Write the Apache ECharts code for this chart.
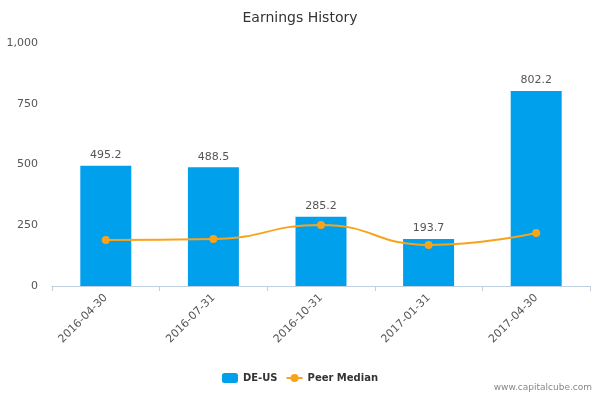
<!DOCTYPE html>
<html>
<head>
<meta charset="utf-8">
<script src="https://cdn.jsdelivr.net/npm/echarts@6/dist/echarts.min.js"></script>
<style>html,body{margin:0;padding:0;background:#fff}</style>
</head>
<body>
<div id="chart" style="width:600px;height:400px"></div>
<script>
var categories = ['2016-04-30', '2016-07-31', '2016-10-31', '2017-01-31', '2017-04-30'];
var companyValues = [495.2, 488.5, 285.2, 193.7, 802.2];
var peerMedian = [189, 193, 251, 169, 218];

var chart = echarts.init(document.getElementById('chart'));
var option = {
    title: {
        text: 'Earnings History',
        left: 'center',
        top: 6,
        textStyle: { fontFamily: 'DejaVu Sans', fontSize: 14, fontWeight: 'normal', color: '#333' }
    },
    grid: { left: 52, right: 10, top: 43, bottom: 114 },
    legend: {
        bottom: 12,
        left: 'center',
        itemWidth: 16,
        itemHeight: 10,
        textStyle: { fontFamily: 'DejaVu Sans', fontSize: 10, fontWeight: 'bold', color: '#333' },
        data: ['DE-US', 'Peer Median']
    },
    graphic: [{
        type: 'text', right: 8, bottom: 8,
        style: { text: 'www.capitalcube.com', fontFamily: 'DejaVu Sans', fontSize: 9, fill: '#888' }
    }],
    xAxis: {
        type: 'category',
        data: categories,
        axisLine: { lineStyle: { color: '#c0d0e0' } },
        axisTick: { show: true, alignWithLabel: false, lineStyle: { color: '#c0d0e0' } },
        axisLabel: { rotate: 45, color: '#555', fontFamily: 'DejaVu Sans', fontSize: 11, margin: 10 }
    },
    yAxis: {
        type: 'value',
        min: 0, max: 1000, interval: 250,
        axisLabel: { color: '#555', fontFamily: 'DejaVu Sans', fontSize: 11, margin: 14 },
        splitLine: { lineStyle: { color: '#ffffff' } },
        axisLine: { show: false },
        axisTick: { show: false }
    },
    series: [{
        name: 'DE-US',
        type: 'bar',
        data: companyValues,
        barWidth: 51,
        itemStyle: { color: '#00a0ed' },
        label: { show: true, position: 'top', color: '#555', fontFamily: 'DejaVu Sans', fontSize: 11, formatter: function (p) { return p.value.toFixed(1); } }
    }, {
        name: 'Peer Median',
        type: 'line',
        data: peerMedian,
        smooth: true,
        symbol: 'circle',
        symbolSize: 8,
        itemStyle: { color: '#f9a31b' },
        lineStyle: { color: '#f9a31b', width: 2 }
    }]
};
chart.setOption(option);
</script>
</body>
</html>
